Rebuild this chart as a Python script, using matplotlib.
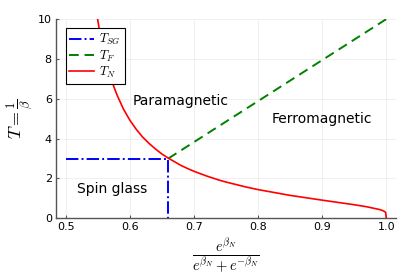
import numpy as np
import matplotlib
matplotlib.use("Agg")
import matplotlib.pyplot as plt

plt.rcParams['mathtext.fontset'] = 'cm'
plt.rcParams['font.family'] = ['DejaVu Sans']

# T_SG: spin glass boundary (horizontal then vertical)
sg_x = [0.50, 0.66, 0.66]
sg_y = [3.0, 3.0, 0.0]

# T_F: ferromagnetic boundary
f_x = [0.66, 1.00]
f_y = [3.0, 10.0]

# T_N
n_x = [0.550, 0.552, 0.555, 0.56, 0.565, 0.57, 0.575, 0.58, 0.59, 0.60, 0.61,
       0.62, 0.63, 0.64, 0.65, 0.66, 0.68, 0.69, 0.70, 0.72, 0.74, 0.75, 0.78,
       0.80, 0.85, 0.90, 0.95, 0.97, 0.99, 0.995, 0.997, 0.999, 1.0]
n_y = [9.97, 9.58, 9.05, 8.29, 7.65, 7.10, 6.62, 6.20, 5.49, 4.93, 4.47,
       4.08, 3.76, 3.48, 3.23, 3.02, 2.65, 2.50, 2.36, 2.12, 1.91, 1.82, 1.58,
       1.44, 1.15, 0.91, 0.68, 0.575, 0.435, 0.378, 0.345, 0.29, 0.0]

fig = plt.figure(figsize=(4.15, 2.77), dpi=100)
ax = fig.add_axes([0.135, 0.212, 0.819, 0.719])

ax.plot(sg_x, sg_y, color='blue', ls='-.', lw=1.4, label=r'$T_{SG}$')
ax.plot(f_x, f_y, color='green', ls=(0, (5, 3)), lw=1.4, label=r'$T_F$')
ax.plot(n_x, n_y, color='red', lw=1.2, label=r'$T_N$')

ax.text(0.605, 5.9, 'Paramagnetic', fontsize=10, ha='left', va='center')
ax.text(0.821, 5.0, 'Ferromagnetic', fontsize=10, ha='left', va='center')
ax.text(0.518, 1.45, 'Spin glass', fontsize=10, ha='left', va='center')

ax.set_xlim(0.485, 1.015)
ax.set_ylim(0, 10)
ax.set_xticks([0.5, 0.6, 0.7, 0.8, 0.9, 1.0])
ax.set_xticklabels(['0.5', '0.6', '0.7', '0.8', '0.9', '1.0'])
ax.set_yticks([0, 2, 4, 6, 8, 10])
ax.tick_params(labelsize=8, direction='in', length=2, color='#555555', pad=3)
ax.grid(True, color='#eeeeee', lw=0.6)
for s in ['top', 'right']:
    ax.spines[s].set_visible(False)
for s in ['left', 'bottom']:
    ax.spines[s].set_color('#555555')
    ax.spines[s].set_linewidth(1.0)

ax.set_ylabel(r'$T = \frac{1}{\beta}$', fontsize=13, labelpad=1)
ax.set_xlabel(r'$\frac{e^{\beta_N}}{e^{\beta_N}+e^{-\beta_N}}$', fontsize=15, labelpad=3)

leg = ax.legend(loc='upper left', bbox_to_anchor=(0.01, 0.985), fontsize=9,
                fancybox=False, framealpha=1, edgecolor='black',
                handlelength=2.0, borderpad=0.3, labelspacing=0.1,
                handletextpad=0.4)
leg.get_frame().set_linewidth(0.8)

fig.savefig('out.png', dpi=100)
